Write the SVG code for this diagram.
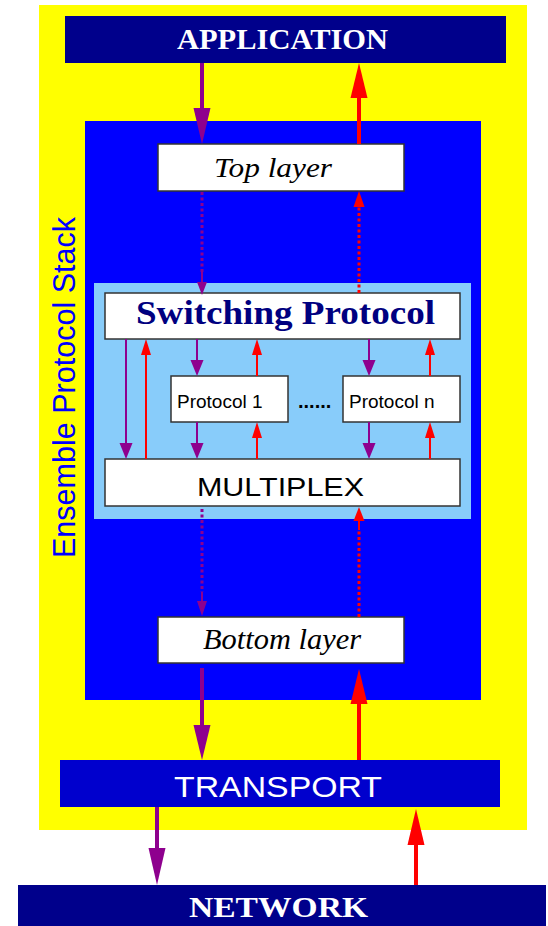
<svg xmlns="http://www.w3.org/2000/svg" width="548" height="926" viewBox="0 0 548 926">
<style>
.box{fill:#ffffff;stroke:#333333;stroke-width:1.5}
.serif{font-family:"Liberation Serif","Times New Roman",serif}
.sans{font-family:"Liberation Sans",Arial,sans-serif}
.pl{stroke:#8e008e;fill:none}
.rl{stroke:#ff0000;fill:none}
.ph{fill:#8e008e}
.rh{fill:#ff0000}
.big{stroke-width:4}
.thin{stroke-width:2}
.dot{stroke-width:3;stroke-dasharray:3 2.5}
</style>
<rect x="39" y="5" width="488" height="825" fill="#ffff00"/>
<rect x="85" y="121" width="396" height="579" fill="#0000ff"/>
<rect x="94" y="283" width="377" height="236" fill="#88ccfa"/>
<text class="sans" transform="translate(75,387.5) rotate(-90)" text-anchor="middle" font-size="30.5" fill="#0000ff" textLength="341" lengthAdjust="spacingAndGlyphs">Ensemble Protocol Stack</text>

<g id="application">
<rect x="65" y="16" width="441" height="47" fill="#00008b"/>
<text class="serif" x="282.5" y="49" text-anchor="middle" font-size="29.5" font-weight="bold" fill="#ffffff" textLength="211" lengthAdjust="spacingAndGlyphs">APPLICATION</text>
</g>
<g id="top-layer">
<rect class="box" x="158" y="144" width="246" height="47"/>
<text class="serif" x="273" y="177" text-anchor="middle" font-size="28" font-style="italic" fill="#000000" textLength="118" lengthAdjust="spacingAndGlyphs">Top layer</text>
</g>
<g id="switching">
<rect class="box" x="105" y="293" width="355" height="46"/>
<text class="serif" x="285.5" y="324" text-anchor="middle" font-size="34" font-weight="bold" fill="#000080" textLength="299" lengthAdjust="spacingAndGlyphs">Switching Protocol</text>
</g>
<g id="protocol1">
<rect class="box" x="171" y="376" width="117" height="46"/>
<text class="sans" x="177" y="408" font-size="19" fill="#000000">Protocol 1</text>
</g>
<g id="ellipsis">
<text class="sans" x="298" y="408" font-size="20" font-weight="bold" fill="#000000">......</text>
</g>
<g id="protocoln">
<rect class="box" x="343" y="376" width="117" height="46"/>
<text class="sans" x="349" y="408" font-size="19" fill="#000000">Protocol n</text>
</g>
<g id="multiplex">
<rect class="box" x="105" y="459" width="355" height="47"/>
<text class="sans" x="280.5" y="496" text-anchor="middle" font-size="25" fill="#000000" textLength="167" lengthAdjust="spacingAndGlyphs">MULTIPLEX</text>
</g>
<g id="bottom-layer">
<rect class="box" x="158" y="617" width="246" height="46"/>
<text class="serif" x="282" y="649" text-anchor="middle" font-size="28.5" font-style="italic" fill="#000000" textLength="158" lengthAdjust="spacingAndGlyphs">Bottom layer</text>
</g>
<g id="transport">
<rect x="60" y="760" width="440" height="47" fill="#0000cd"/>
<text class="sans" x="278" y="797" text-anchor="middle" font-size="29.5" fill="#ffffff" textLength="208" lengthAdjust="spacingAndGlyphs">TRANSPORT</text>
</g>
<g id="network">
<rect x="18" y="885" width="528" height="41" fill="#00008b"/>
<text class="serif" x="278.5" y="917" text-anchor="middle" font-size="30" font-weight="bold" fill="#ffffff" textLength="179" lengthAdjust="spacingAndGlyphs">NETWORK</text>
</g>

<g id="connectors">
<!-- application <-> top layer -->
<line class="pl big" x1="202" y1="63" x2="202" y2="112"/>
<polygon class="ph" points="193.5,108 210.5,108 202,144"/>
<line class="rl big" x1="359" y1="144" x2="359" y2="95"/>
<polygon class="rh" points="350.5,98 367.5,98 359,63"/>
<!-- top layer <-> switching -->
<line class="pl dot" x1="202" y1="192" x2="202" y2="272"/>
<line class="pl thin" x1="202" y1="272" x2="202" y2="285"/>
<polygon class="ph" points="197,282 207,282 202,295"/>
<line class="rl dot" x1="359" y1="293" x2="359" y2="205"/>
<polygon class="rh" points="353.5,207 364.5,207 359,191"/>
<!-- switching <-> multiplex -->
<line class="pl thin" x1="126" y1="339" x2="126" y2="447"/>
<polygon class="ph" points="119.5,443 132.5,443 126,459"/>
<line class="rl thin" x1="146" y1="459" x2="146" y2="351"/>
<polygon class="rh" points="141,355 151,355 146,339"/>
<!-- switching <-> protocol 1 -->
<line class="pl thin" x1="197" y1="339" x2="197" y2="364"/>
<polygon class="ph" points="190.5,360 203.5,360 197,376"/>
<line class="rl thin" x1="257" y1="376" x2="257" y2="351"/>
<polygon class="rh" points="252,355 262,355 257,339"/>
<!-- protocol 1 <-> multiplex -->
<line class="pl thin" x1="197" y1="422" x2="197" y2="447"/>
<polygon class="ph" points="190.5,443 203.5,443 197,459"/>
<line class="rl thin" x1="257" y1="459" x2="257" y2="434"/>
<polygon class="rh" points="252,438 262,438 257,422"/>
<!-- switching <-> protocol n -->
<line class="pl thin" x1="369" y1="339" x2="369" y2="364"/>
<polygon class="ph" points="362.5,360 375.5,360 369,376"/>
<line class="rl thin" x1="430" y1="376" x2="430" y2="351"/>
<polygon class="rh" points="425,355 435,355 430,339"/>
<!-- protocol n <-> multiplex -->
<line class="pl thin" x1="369" y1="422" x2="369" y2="447"/>
<polygon class="ph" points="362.5,443 375.5,443 369,459"/>
<line class="rl thin" x1="430" y1="459" x2="430" y2="434"/>
<polygon class="rh" points="425,438 435,438 430,422"/>
<!-- multiplex <-> bottom layer -->
<line class="pl dot" x1="202" y1="509" x2="202" y2="592"/>
<line class="pl thin" x1="202" y1="592" x2="202" y2="604"/>
<polygon class="ph" points="197,601 207,601 202,616"/>
<line class="rl dot" x1="359" y1="617" x2="359" y2="530"/>
<line class="rl thin" x1="359" y1="530" x2="359" y2="518" stroke-width="3"/>
<polygon class="rh" points="353.5,521 364.5,521 359,507"/>
<!-- bottom layer <-> transport -->
<line class="pl big" x1="202" y1="668" x2="202" y2="729"/>
<polygon class="ph" points="193.5,725 210.5,725 202,760"/>
<line class="rl big" x1="359" y1="760" x2="359" y2="700"/>
<polygon class="rh" points="350.5,704 367.5,704 359,669"/>
<!-- transport <-> network -->
<line class="pl big" x1="157" y1="807" x2="157" y2="852"/>
<polygon class="ph" points="148.5,848 165.5,848 157,885"/>
<line class="rl big" x1="416" y1="885" x2="416" y2="841"/>
<polygon class="rh" points="407.5,845 424.5,845 416,809"/>
</g>
</svg>
